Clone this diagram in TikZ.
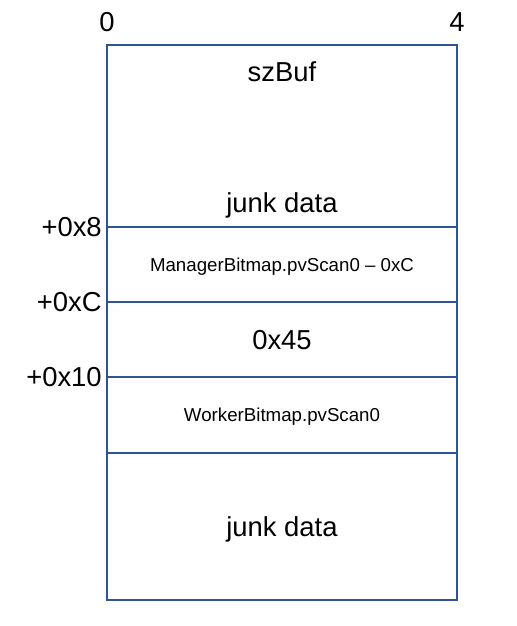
\documentclass[tikz,border=0pt]{standalone}
\usepackage{fontspec}
\setmainfont{Liberation Sans}
\usetikzlibrary{positioning}
\definecolor{cellblue}{RGB}{47, 85, 151}
\tikzset{
  memcell/.style={rectangle, draw=cellblue, line width=1.4pt, minimum width=8.75cm, inner sep=0pt, outer sep=0pt, font=\fontsize{19.5}{22}\selectfont, text height=14pt, text depth=0pt},
  smallcell/.style={memcell, font=\fontsize{13.3}{16}\selectfont, text height=9.5pt},
  bigtext/.style={font=\fontsize{19.5}{22}\selectfont, inner sep=1pt, text height=14pt, text depth=0pt},
  offsetlabel/.style={bigtext}
}

\begin{document}
\begin{tikzpicture}
    \useasboundingbox (0,0) rectangle (12.9,-15.65);

    % szBuf block
    \node[memcell, minimum height=4.55cm] (buf) at (7.05,-3.4) {};
    \node[bigtext] (bufname) at (7.05,-1.8) {szBuf};
    \node[bigtext] (junktop) at (7.05,-5.075) {junk data};

    % Fields stacked below
    \node[smallcell, minimum height=1.875cm, below=0pt of buf] (mgr) {ManagerBitmap.pvScan0 -- 0xC};
    \node[memcell, minimum height=1.875cm, below=0pt of mgr] (val) {0x45};
    \node[smallcell, minimum height=1.9cm, below=0pt of val] (wrk) {WorkerBitmap.pvScan0};
    \node[memcell, minimum height=3.675cm, below=0pt of wrk] (junkbot) {junk data};

    % Byte columns
    \node[bigtext, above=0.29cm of buf.north west] (col0) {0};
    \node[bigtext, above=0.29cm of buf.north east] (col4) {4};

    % Offsets
    \node[offsetlabel, left=0.09cm of mgr.north west] (off8) {+0x8};
    \node[offsetlabel, left=0.09cm of val.north west] (offC) {+0xC};
    \node[offsetlabel, left=0.09cm of wrk.north west] (off10) {+0x10};
\end{tikzpicture}
\end{document}
